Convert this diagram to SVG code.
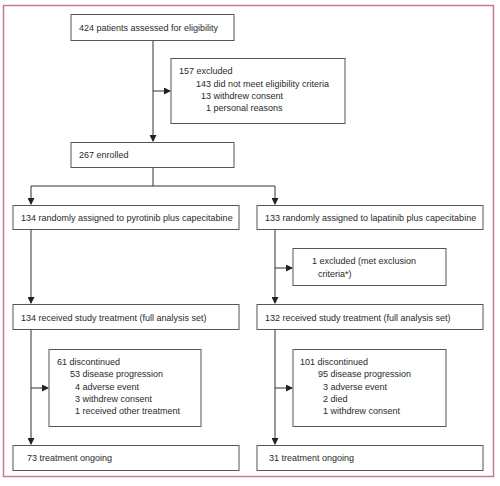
<svg xmlns="http://www.w3.org/2000/svg" width="500" height="486" viewBox="0 0 500 486">
<style>
.box{fill:#fff;stroke:#555;stroke-width:1}
.t{font-family:"Liberation Sans",Arial,sans-serif;font-size:9px;fill:#2a2a2a}
.ln{fill:none;stroke:#333;stroke-width:1}
</style>
<defs>
<marker id="ah" markerWidth="7" markerHeight="7" refX="6" refY="3.5" orient="auto" markerUnits="userSpaceOnUse">
<path d="M0,0 L7,3.5 L0,7 Z" fill="#222"/>
</marker>
</defs>
<rect x="0" y="0" width="500" height="486" fill="#fff"/>
<rect x="3.5" y="5.5" width="490" height="471" fill="#fff" stroke="#c77a9b" stroke-width="1.5"/>
<g id="connectors">
<path class="ln" d="M153,41 V141" marker-end="url(#ah)"/>
<path class="ln" d="M153,91 H170" marker-end="url(#ah)"/>
<path class="ln" d="M153,168 V186 M31,186 H275"/>
<path class="ln" d="M31,186 V204" marker-end="url(#ah)"/>
<path class="ln" d="M275,186 V204" marker-end="url(#ah)"/>
<path class="ln" d="M31,230 V303" marker-end="url(#ah)"/>
<path class="ln" d="M275,230 V303" marker-end="url(#ah)"/>
<path class="ln" d="M275,268 H292" marker-end="url(#ah)"/>
<path class="ln" d="M31,330 V444" marker-end="url(#ah)"/>
<path class="ln" d="M275,330 V444" marker-end="url(#ah)"/>
<path class="ln" d="M31,388 H48" marker-end="url(#ah)"/>
<path class="ln" d="M275,388 H292" marker-end="url(#ah)"/>
</g>
<g id="assessed">
<rect class="box" x="71" y="14.5" width="163" height="26"/>
<text class="t" x="79" y="31">424 patients assessed for eligibility</text>
</g>
<g id="excluded1">
<rect class="box" x="171" y="58.5" width="174" height="65"/>
<text class="t" x="179" y="74">157 excluded</text>
<text class="t" x="196" y="86.5">143 did not meet eligibility criteria</text>
<text class="t" x="201" y="99">13 withdrew consent</text>
<text class="t" x="206" y="111">1 personal reasons</text>
</g>
<g id="enrolled">
<rect class="box" x="71" y="142.5" width="163" height="25"/>
<text class="t" x="79" y="158">267 enrolled</text>
</g>
<g id="assigned-pyrotinib">
<rect class="box" x="13" y="205.5" width="226" height="24"/>
<text class="t" x="21" y="221">134 randomly assigned to pyrotinib plus capecitabine</text>
</g>
<g id="assigned-lapatinib">
<rect class="box" x="257" y="205.5" width="226" height="24"/>
<text class="t" x="265" y="221">133 randomly assigned to lapatinib plus capecitabine</text>
</g>
<g id="excluded2">
<rect class="box" x="293" y="248.5" width="153" height="37"/>
<text class="t" x="312" y="264">1 excluded (met exclusion</text>
<text class="t" x="318" y="277">criteria*)</text>
</g>
<g id="received-left">
<rect class="box" x="13" y="304.5" width="226" height="25"/>
<text class="t" x="21" y="320.5">134 received study treatment (full analysis set)</text>
</g>
<g id="received-right">
<rect class="box" x="257" y="304.5" width="226" height="25"/>
<text class="t" x="265" y="320.5">132 received study treatment (full analysis set)</text>
</g>
<g id="discontinued-left">
<rect class="box" x="49" y="349.5" width="152" height="77"/>
<text class="t" x="57" y="365">61 discontinued</text>
<text class="t" x="70" y="377">53 disease progression</text>
<text class="t" x="75" y="389.5">4 adverse event</text>
<text class="t" x="75" y="402">3 withdrew consent</text>
<text class="t" x="75" y="414">1 received other treatment</text>
</g>
<g id="discontinued-right">
<rect class="box" x="293" y="349.5" width="153" height="77"/>
<text class="t" x="300" y="365">101 discontinued</text>
<text class="t" x="318" y="377">95 disease progression</text>
<text class="t" x="323" y="389.5">3 adverse event</text>
<text class="t" x="323" y="402">2 died</text>
<text class="t" x="323" y="414">1 withdrew consent</text>
</g>
<g id="ongoing-left">
<rect class="box" x="13" y="445.5" width="226" height="25"/>
<text class="t" x="27" y="461">73 treatment ongoing</text>
</g>
<g id="ongoing-right">
<rect class="box" x="257" y="445.5" width="226" height="25"/>
<text class="t" x="269" y="461">31 treatment ongoing</text>
</g>
</svg>
